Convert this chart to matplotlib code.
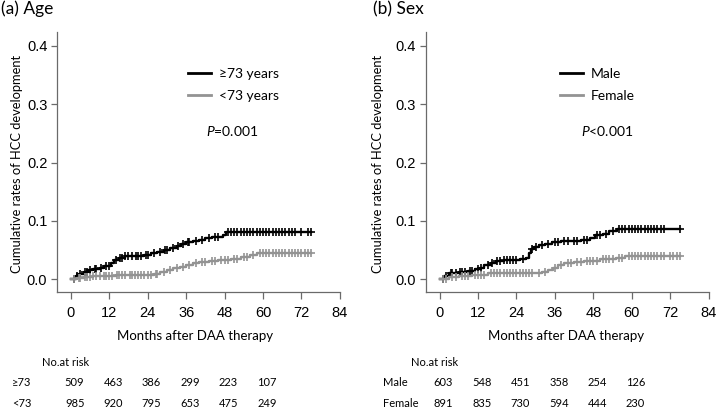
import matplotlib
matplotlib.use("Agg")
import matplotlib.pyplot as plt
import matplotlib.transforms as mtransforms
from matplotlib.lines import Line2D
import numpy as np

plt.rcParams["font.family"] = ["Lato", "DejaVu Sans"]
plt.rcParams["mathtext.fontset"] = "custom"
plt.rcParams["mathtext.it"] = "Lato:italic"
plt.rcParams["mathtext.rm"] = "Lato"

# ---- data ----
months_ticks = [0, 12, 24, 36, 48, 60, 72, 84]
y_ticks = [0.0, 0.1, 0.2, 0.3, 0.4]
risk_months = [0, 12, 24, 36, 48, 60]

# (a) Age
age_hi_t = [0, 1.5, 2.5, 4, 5.5, 7, 9, 10.5, 12.5, 13.5, 15, 17, 20, 23, 25, 27, 29, 31,
            33, 34.5, 36, 38, 40, 42, 44, 47.5, 48.5, 75]
age_hi_y = [0, 0.005, 0.009, 0.012, 0.015, 0.017, 0.019, 0.022, 0.028, 0.033, 0.036, 0.039,
            0.040, 0.042, 0.045, 0.047, 0.050, 0.053, 0.057, 0.060, 0.063, 0.066, 0.068,
            0.070, 0.072, 0.075, 0.081, 0.081]
age_lo_t = [0, 2, 4, 7, 10, 14, 18, 26, 28, 30, 32, 34, 36, 38, 40, 43, 46, 50, 53, 56, 58, 75]
age_lo_y = [0, 0.002, 0.004, 0.005, 0.006, 0.007, 0.008, 0.009, 0.012, 0.016, 0.019, 0.021,
            0.024, 0.027, 0.029, 0.031, 0.033, 0.035, 0.038, 0.042, 0.045, 0.045]
age_hi_cens = [1, 2, 3, 4.5, 5, 6, 7.5, 8, 9.5, 11, 12, 14, 15.5, 16, 17, 18, 19, 20.5, 21,
               22, 23.5, 24, 26, 28, 29.5, 30, 32, 33.5, 35, 36.5, 37, 39, 41, 43, 45, 46,
               49, 50, 51, 52, 53, 54, 55, 56, 57, 58, 59, 60, 61, 62, 63, 64, 65, 66, 67,
               68, 69, 70, 72, 74, 75]
age_lo_cens = [1, 2.5, 3, 4.5, 5, 6, 7, 8, 9, 10.5, 11, 12, 13, 14.5, 15, 16, 17, 18.5, 19,
               20, 21, 22, 23, 24, 25, 26.5, 27, 29, 31, 33, 35, 37, 39, 41, 42, 44, 45, 47,
               48, 49, 51, 52, 54, 55, 57, 59, 60, 61, 62, 63, 64, 65, 66, 67, 68, 69, 70,
               71, 72, 73, 74, 75]

# (b) Sex
sex_m_t = [0, 1.5, 3, 6, 9, 11, 12.5, 14, 16, 17.5, 20, 25, 27, 28, 28.5, 29.5, 31, 33, 35,
           38, 41, 44, 47, 48.5, 51, 53, 55.5, 75]
sex_m_y = [0, 0.006, 0.010, 0.012, 0.014, 0.017, 0.020, 0.024, 0.028, 0.031, 0.033, 0.035,
           0.037, 0.045, 0.052, 0.056, 0.058, 0.060, 0.063, 0.065, 0.066, 0.068, 0.070,
           0.075, 0.078, 0.082, 0.086, 0.086]
sex_f_t = [0, 3, 6, 10, 15, 30, 32, 34, 35.5, 37, 39, 42, 45, 50, 55, 58, 75]
sex_f_y = [0, 0.003, 0.005, 0.008, 0.010, 0.011, 0.013, 0.016, 0.020, 0.024, 0.027, 0.029,
           0.032, 0.034, 0.036, 0.039, 0.039]
sex_m_cens = [1, 2, 3.5, 4, 5, 6.5, 7, 8, 9.5, 10, 12, 13, 15, 16.5, 18, 19, 20, 21, 22, 23,
              24, 26, 29, 30, 32, 34, 36, 37, 39, 40, 42, 43, 45, 46, 49, 50, 52, 54, 56,
              57, 58, 59, 60, 61, 62, 63, 64, 65, 66, 67, 68, 69, 70, 75]
sex_f_cens = [1, 2, 4, 5, 7, 8, 9, 11, 12, 13, 14, 16, 17, 18, 19, 20, 21, 22, 23, 24, 25,
              26, 27, 28, 29, 31, 33, 36, 38, 40, 41, 43, 44, 46, 47, 48, 49, 51, 52, 53,
              54, 56, 57, 59, 60, 61, 62, 63, 64, 65, 66, 67, 68, 69, 70, 72, 73, 74, 75]

age_risk_hi = [509, 463, 386, 299, 223, 107]
age_risk_lo = [985, 920, 795, 653, 475, 249]
sex_risk_m = [603, 548, 451, 358, 254, 126]
sex_risk_f = [891, 835, 730, 594, 444, 230]

BLACK = "#000000"
GRAY = "#939393"
SPINE = "#6a6a6a"

fig = plt.figure(figsize=(7.18, 4.09), dpi=100)


def step_value(t, y, x):
    idx = np.searchsorted(np.asarray(t), np.asarray(x), side="right") - 1
    return np.asarray(y)[np.clip(idx, 0, len(y) - 1)]


def km_panel(left, curves, labels, ptext, title, title_x, ylab_x, xlab_x,
             leg_x, p_x, row_names, risks, risk_label_x, noat_x):
    ax = fig.add_axes([left, 0.286, 0.394, 0.636])
    for (t, y, c), col in zip(curves, [BLACK, GRAY]):
        ax.step(t, y, where="post", color=col, lw=1.7)
        ax.plot(c, step_value(t, y, c), ls="none", marker="+", ms=5.5, mew=1.2, color=col)
    ax.set_xlim(-4.3, 84)
    ax.set_ylim(-0.022, 0.424)
    ax.set_xticks(months_ticks)
    ax.set_yticks(y_ticks, [f"{v:.1f}" for v in y_ticks])
    for s in ["top", "right"]:
        ax.spines[s].set_visible(False)
    for s in ["left", "bottom"]:
        ax.spines[s].set_color(SPINE)
        ax.spines[s].set_linewidth(0.9)
    ax.tick_params(axis="x", length=5, width=0.9, color=SPINE, pad=5, labelsize=10.5)
    ax.tick_params(axis="y", length=4, width=0.9, color=SPINE, pad=3, labelsize=10.5)
    for lab in ax.get_xticklabels() + ax.get_yticklabels():
        lab.set_family(["Liberation Sans", "DejaVu Sans"])

    handles = [Line2D([], [], color=BLACK, lw=2), Line2D([], [], color=GRAY, lw=2)]
    ax.legend(handles, labels, loc="upper left", bbox_to_anchor=(leg_x, 0.86),
              frameon=False, fontsize=10, handlelength=1.65, handletextpad=0.6,
              labelspacing=0.72, borderpad=0, borderaxespad=0)
    ax.text(p_x, 0.62, ptext, transform=ax.transAxes, ha="center", va="center", fontsize=10)

    fig.text(title_x, 0.978, title, ha="left", va="center", fontsize=12.5)
    fig.text(ylab_x, 0.60, "Cumulative rates of HCC development", rotation=90,
             ha="center", va="center", fontsize=9.3)
    fig.text(xlab_x, 0.1785, "Months after DAA therapy", ha="center", va="center", fontsize=9.5)

    tr = mtransforms.blended_transform_factory(ax.transData, fig.transFigure)
    fig.text(noat_x, 0.1125, "No.at risk", ha="left", va="center", fontsize=8)
    for name, row, yy in zip(row_names, risks, [0.0636, 0.0139]):
        fig.text(risk_label_x, yy, name, ha="left", va="center", fontsize=8)
        for m, n in zip(risk_months, row):
            ax.text(m + 1.2, yy, str(n), transform=tr, ha="center", va="center",
                    fontsize=8, clip_on=False)
    return ax


km_panel(0.0794,
         [(age_hi_t, age_hi_y, age_hi_cens), (age_lo_t, age_lo_y, age_lo_cens)],
         ["≥73 years", "<73 years"], r"$\mathit{P}$=0.001", "(a) Age",
         0.001, 0.024, 0.271, 0.463, 0.62,
         ["≥73", "<73"], [age_risk_hi, age_risk_lo], 0.0167, 0.0585)

km_panel(0.593,
         [(sex_m_t, sex_m_y, sex_m_cens), (sex_f_t, sex_f_y, sex_f_cens)],
         ["Male", "Female"], r"$\mathit{P}$<0.001", "(b) Sex",
         0.5195, 0.527, 0.788, 0.474, 0.64,
         ["Male", "Female"], [sex_risk_m, sex_risk_f], 0.533, 0.572)

fig.savefig("out.png", dpi=100)
